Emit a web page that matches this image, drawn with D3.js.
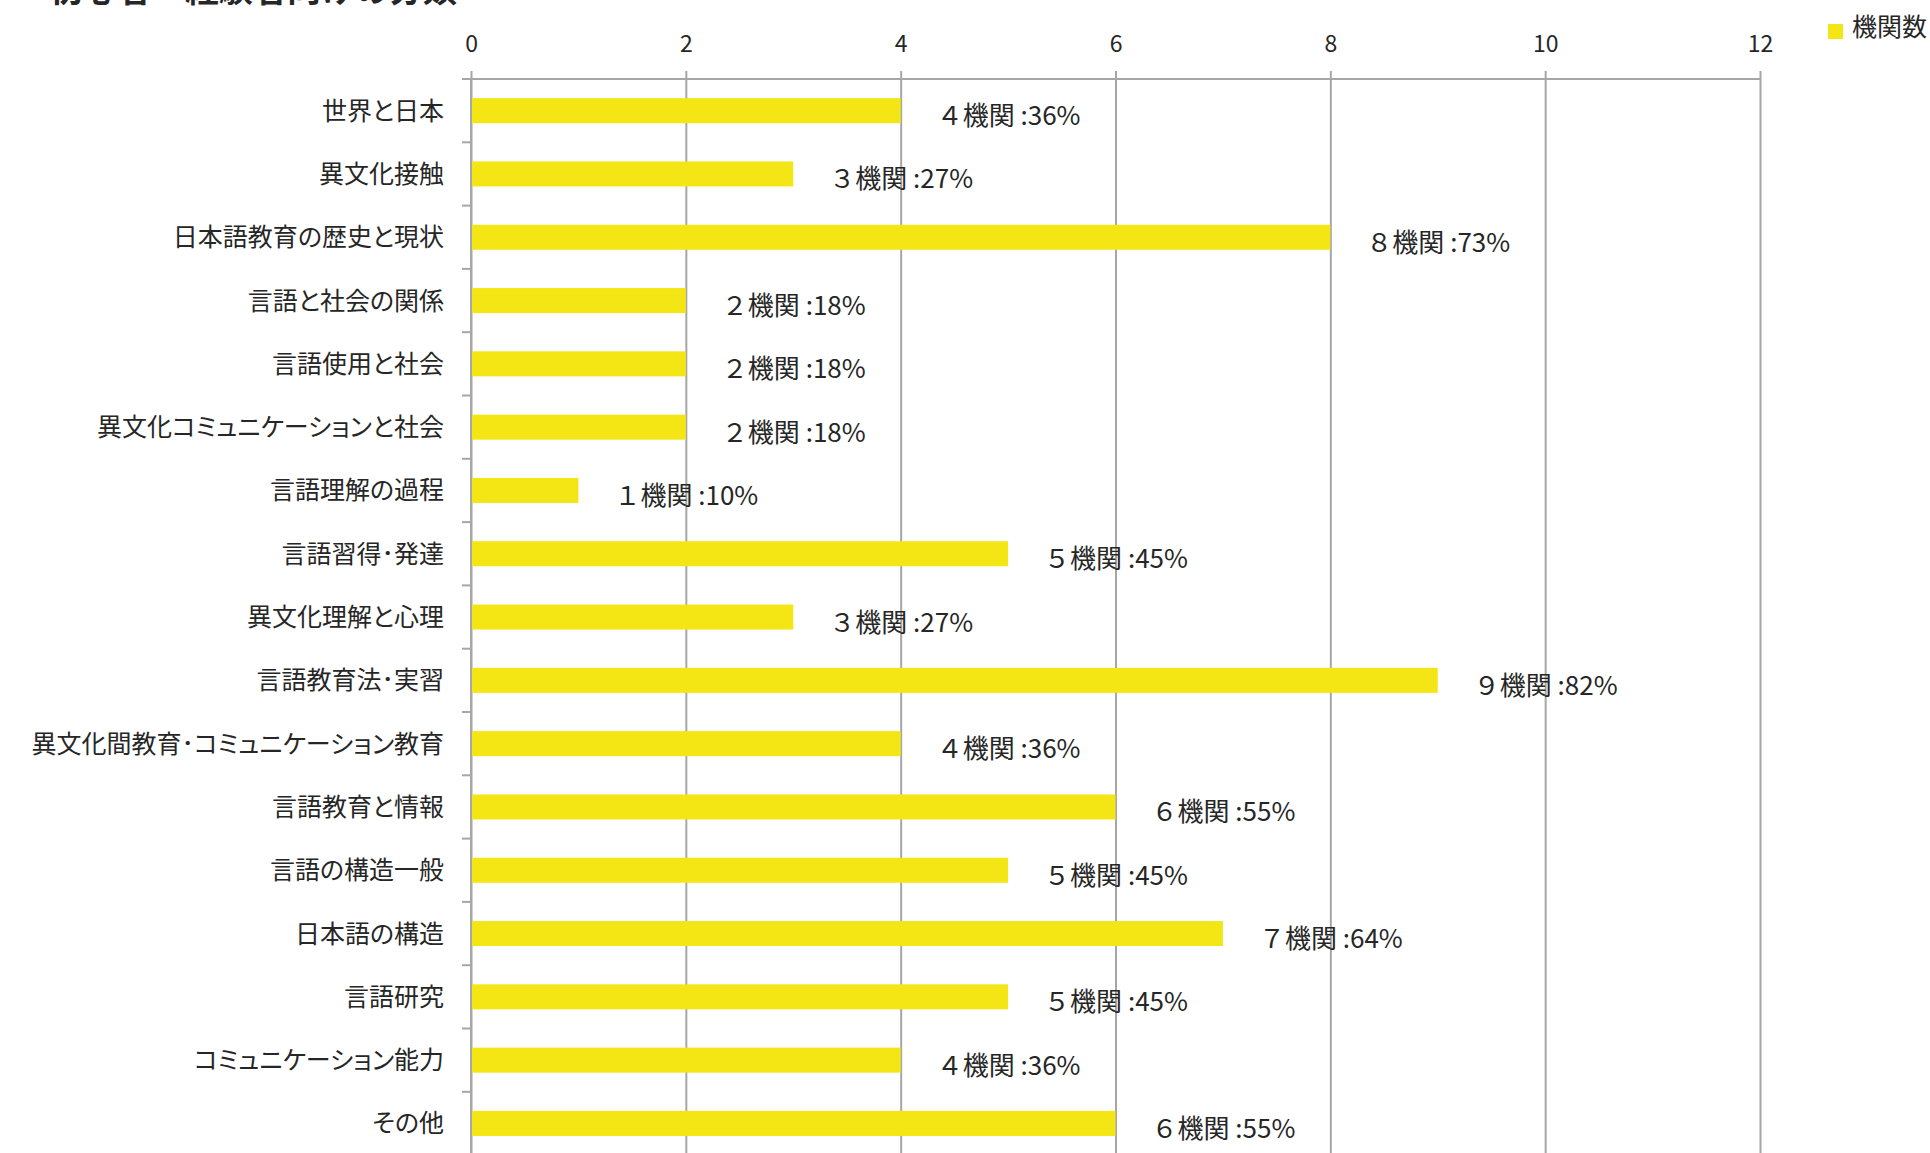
<!DOCTYPE html>
<html><head><meta charset="utf-8">
<script src="https://cdn.jsdelivr.net/npm/d3@7"></script>
<style>
html,body{margin:0;padding:0;background:#fff;overflow:hidden}
text{font-family:"Noto Sans CJK JP","Noto Sans",sans-serif;fill:#262626}
.cat{font-feature-settings:"palt" 1}
</style></head>
<body><svg id="c" width="1930" height="1153"></svg>
<script>
const title = "初心者・経験者向けの分類";
const seriesName = "機関数";
const categories = ["世界と日本","異文化接触","日本語教育の歴史と現状","言語と社会の関係","言語使用と社会","異文化コミュニケーションと社会","言語理解の過程","言語習得･発達","異文化理解と心理","言語教育法･実習","異文化間教育･コミュニケーション教育","言語教育と情報","言語の構造一般","日本語の構造","言語研究","コミュニケーション能力","その他"];
const counts = [4,3,8,2,2,2,1,5,3,9,4,6,5,7,5,4,6];
const percents = [36,27,73,18,18,18,10,45,27,82,36,55,45,64,45,36,55];
const xTicks = [0,2,4,6,8,10,12];

(function(){
const svg = d3.select("#c");
const pL = 471, pR = 1760, pT = 79, pB = 79 + 17*63.3;
const x = d3.scaleLinear().domain([0,12]).range([pL,pR]);
const y = d3.scaleBand().domain(categories).range([pT,pB]).paddingInner(0.605).paddingOuter(0.3025);
const grid = "#a6a6a6";
const fw = n => String(n).replace(/[0-9]/g, c => String.fromCharCode(c.charCodeAt(0)+0xFEE0));

// title (clipped at top as in reference)
svg.append("text").attr("x",49).attr("y",2).attr("font-size",34).attr("font-weight","bold").text(title);

// x axis (top) with gridlines
const xa = svg.append("g").attr("transform",`translate(0,${pT})`)
  .call(d3.axisTop(x).tickValues(xTicks).tickSizeOuter(0).tickPadding(21));
xa.select(".domain").remove();
xa.selectAll(".tick line").attr("y1",-8).attr("y2",pB-pT).attr("stroke",grid).attr("stroke-width",2);
xa.selectAll(".tick text").attr("font-size",23).attr("fill","#262626").attr("font-family","\"Noto Sans CJK JP\",sans-serif");
svg.append("line").attr("x1",pL-9).attr("x2",pR).attr("y1",pT).attr("y2",pT).attr("stroke",grid).attr("stroke-width",2);

// y axis
svg.append("line").attr("x1",pL).attr("x2",pL).attr("y1",pT).attr("y2",pB).attr("stroke",grid).attr("stroke-width",2);
const step = y.step();
svg.append("g").selectAll("line").data(d3.range(categories.length+1)).join("line")
  .attr("x1",pL-9).attr("x2",pL)
  .attr("y1",i=>pT+i*step).attr("y2",i=>pT+i*step)
  .attr("stroke",grid).attr("stroke-width",2);
svg.append("g").selectAll("text").data(categories).join("text")
  .attr("class","cat")
  .attr("x",pL-27).attr("y",d=>y(d)+y.bandwidth()/2-2)
  .attr("text-anchor","end").attr("dominant-baseline","central")
  .attr("font-size",25).text(d=>d);

// bars
svg.append("g").selectAll("rect").data(categories).join("rect")
  .attr("x",x(0)+1).attr("y",d=>y(d))
  .attr("width",(d,i)=>x(counts[i])-x(0)-1).attr("height",y.bandwidth())
  .attr("fill","#f4e614");

// data labels
svg.append("g").selectAll("text").data(categories).join("text")
  .attr("x",(d,i)=>x(counts[i])+36).attr("y",d=>y(d)+y.bandwidth()/2+3)
  .attr("dominant-baseline","central").attr("font-size",26)
  .text((d,i)=>`${fw(counts[i])}機関 :${percents[i]}%`);

// legend
svg.append("rect").attr("x",1828).attr("y",24).attr("width",15).attr("height",15).attr("fill","#f4e614");
svg.append("text").attr("x",1852).attr("y",25).attr("dominant-baseline","central").attr("font-size",25).text(seriesName);
})();
</script></body></html>
